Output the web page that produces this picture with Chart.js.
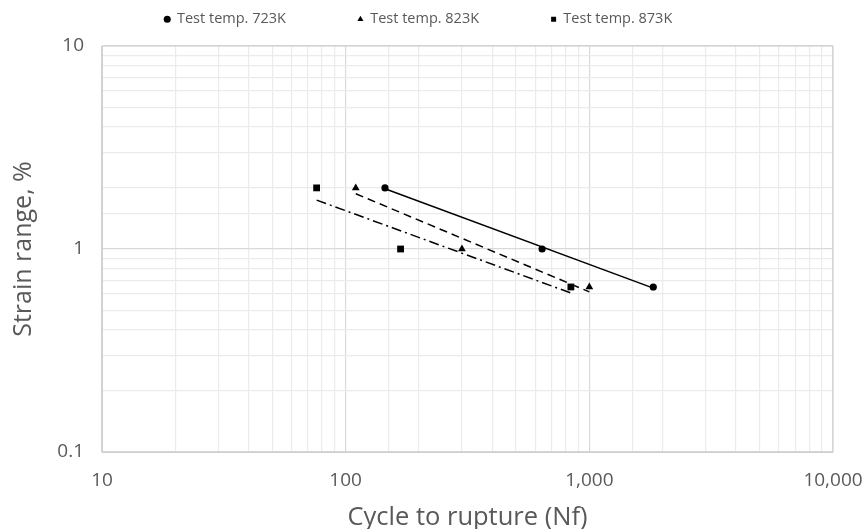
<!DOCTYPE html>
<html>
<head>
<meta charset="utf-8">
<script src="https://cdn.jsdelivr.net/npm/chart.js@4/dist/chart.umd.min.js"></script>
<style>
  html, body { margin: 0; padding: 0; background: #fff; }
  #wrap { width: 863px; height: 529px; }
</style>
</head>
<body>
<div id="wrap"><canvas id="c" width="863" height="529"></canvas></div>
<script>
// values
const cycles723 = [145, 640, 1830];
const strain723 = [2, 1, 0.65];
const cycles823 = [110, 300, 1000];
const strain823 = [2, 1, 0.65];
const cycles873 = [76, 168, 840];
const strain873 = [2, 1, 0.65];

const seriesLabels = ['Test temp. 723K', 'Test temp. 823K', 'Test temp. 873K'];
const xTickLabels = { 10: '10', 100: '100', 1000: '1,000', 10000: '10,000' };
const yTickLabels = { 0.1: '0.1', 1: '1', 10: '10' };

const textColor = '#595959';
const font = "'Open Sans', Lato, sans-serif";

// power trendline (least squares in log-log), spanning the data range
function powerFit (xs, ys) {
  const lx = xs.map(Math.log10), ly = ys.map(Math.log10);
  const n = xs.length;
  const mx = lx.reduce((a, b) => a + b, 0) / n;
  const my = ly.reduce((a, b) => a + b, 0) / n;
  let sxy = 0, sxx = 0;
  for (let i = 0; i < n; i++) {
    sxy += (lx[i] - mx) * (ly[i] - my);
    sxx += (lx[i] - mx) * (lx[i] - mx);
  }
  const b = sxy / sxx, a = my - b * mx;
  const x0 = Math.min(...xs), x1 = Math.max(...xs);
  return [x0, x1].map(x => ({ x: x, y: Math.pow(10, a + b * Math.log10(x)) }));
}

function pts (xs, ys) { return xs.map((x, i) => ({ x: x, y: ys[i] })); }

function isMajor (v) {
  const l = Math.log10(v);
  return Math.abs(l - Math.round(l)) < 1e-9;
}

const datasets = [
  { label: seriesLabels[0], data: pts(cycles723, strain723), pointStyle: 'circle', pointRadius: 3.6 },
  { label: seriesLabels[1], data: pts(cycles823, strain823), pointStyle: 'triangle', pointRadius: 4.5 },
  { label: seriesLabels[2], data: pts(cycles873, strain873), pointStyle: 'rect', pointRadius: 4.8 },
  { label: 'trend723', data: powerFit(cycles723, strain723), showLine: true, borderDash: [] },
  { label: 'trend823', data: powerFit(cycles823, strain823), showLine: true, borderDash: [8, 5] },
  { label: 'trend873', data: powerFit(cycles873, strain873), showLine: true, borderDash: [10, 4, 2, 4] }
].map(d => Object.assign({
  backgroundColor: '#000',
  borderColor: '#000',
  borderWidth: d.showLine ? 1.5 : 0,
  pointRadius: 0,
  pointHoverRadius: 0
}, d));

Chart.defaults.font.family = font;
Chart.defaults.color = textColor;

const gridColor = ctx => (ctx.tick && isMajor(ctx.tick.value) ? '#d9d9d9' : '#ebebeb');

new Chart(document.getElementById('c'), {
  type: 'scatter',
  data: { datasets: datasets },
  options: {
    responsive: false,
    animation: false,
    layout: { padding: { left: 4, right: 30, top: 4, bottom: 0 } },
    plugins: {
      tooltip: { enabled: false },
      legend: {
        position: 'top',
        labels: {
          usePointStyle: true,
          boxWidth: 5,
          boxHeight: 5,
          padding: 8,
          color: textColor,
          font: { size: 14.5 },
          generateLabels (chart) {
            const items = Chart.defaults.plugins.legend.labels.generateLabels(chart)
              .filter(item => item.datasetIndex < 3);
            // widen the gaps between entries like the original
            items.forEach((item, i) => {
              if (i < items.length - 1) item.text = item.text + ' '.repeat(17);
            });
            return items;
          }
        }
      }
    },
    scales: {
      x: {
        type: 'logarithmic',
        min: 10,
        max: 10000,
        afterFit (scale) {
          scale.height = 529 - 452;
          scale.paddingLeft = 0;
          scale.paddingRight = 0;
        },
        title: { display: true, text: 'Cycle to rupture (Nf)', font: { size: 25.5 }, color: textColor, padding: { top: 0, bottom: -4 } },
        ticks: {
          autoSkip: false,
          maxRotation: 0,
          font: { size: 19 },
          color: textColor,
          padding: 17,
          callback: v => (isMajor(v) ? xTickLabels[Math.round(v)] : '')
        },
        grid: { color: gridColor, lineWidth: 1.2, drawTicks: false },
        border: { color: '#d0d0d0' }
      },
      y: {
        type: 'logarithmic',
        min: 0.1,
        max: 10,
        afterFit (scale) { scale.width = 102 - 4; },
        title: { display: true, text: 'Strain range, %', font: { size: 25 }, color: textColor, padding: { top: 5, bottom: 0 } },
        ticks: {
          autoSkip: false,
          font: { size: 19 },
          color: textColor,
          padding: 18,
          callback: v => (isMajor(v) ? yTickLabels[String(Number(v.toPrecision(3)))] : '')
        },
        grid: { color: gridColor, lineWidth: 1.2, drawTicks: false },
        border: { color: '#d0d0d0' }
      }
    }
  },
  plugins: [{
    id: 'legendGap',
    beforeLayout (chart) {
      const lg = chart.legend;
      if (lg && !lg._gapPatched) {
        const fit = lg.fit.bind(lg);
        lg.fit = function () {
          fit();
          this.height = 42;
        };
        lg._gapPatched = true;
      }
    }
  }, {
    id: 'frame',
    afterDatasetsDraw (chart) {
      const a = chart.chartArea, c = chart.ctx;
      c.save();
      c.strokeStyle = '#d0d0d0';
      c.lineWidth = 1;
      c.strokeRect(a.left, a.top, a.right - a.left, a.bottom - a.top);
      c.restore();
    }
  }]
});
</script>
</body>
</html>
